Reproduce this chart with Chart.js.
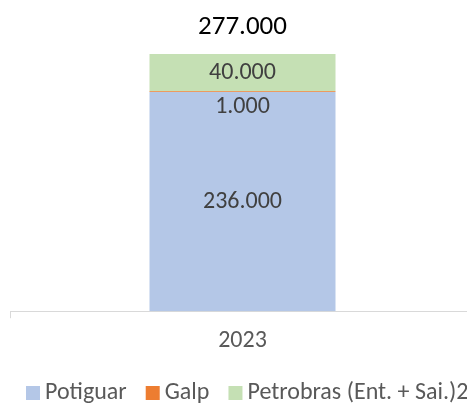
<!DOCTYPE html>
<html>
<head>
<meta charset="utf-8">
<script src="https://cdn.jsdelivr.net/npm/chart.js@4"></script>
<style>
  html, body { margin: 0; padding: 0; background: #fff; overflow: hidden; }
  #wrap { width: 496px; height: 403px; }
</style>
</head>
<body>
<div id="wrap"><canvas id="chart"></canvas></div>
<script>
const categories = ["2023"];
const seriesNames = ["Potiguar", "Galp", "Petrobras (Ent. + Sai.)2"];
const potiguar = [236000];
const galp = [1000];
const petrobras = [40000];
const totals = [277000];

const fontFamily = "Calibri, Carlito, Lato, sans-serif";
const fmt = (v) => v.toLocaleString("pt-BR");

// rótulos de valor e total desenhados a partir dos elementos do gráfico
const labelsPlugin = {
  id: "valueLabels",
  afterDatasetsDraw(chart) {
    const ctx = chart.ctx;
    ctx.save();
    ctx.textAlign = "center";
    ctx.textBaseline = "middle";
    ctx.font = "24px " + fontFamily;
    ctx.fillStyle = "#404040";
    chart.data.datasets.forEach((ds, i) => {
      const meta = chart.getDatasetMeta(i);
      meta.data.forEach((bar, j) => {
        const v = ds.data[j];
        let y = (bar.y + bar.base) / 2;
        if (i === 1) y = bar.y + 16;
        ctx.fillText(fmt(v), bar.x, y);
      });
    });
    const topMeta = chart.getDatasetMeta(2);
    ctx.font = "27px " + fontFamily;
    ctx.fillStyle = "#000";
    topMeta.data.forEach((bar, j) => {
      ctx.fillText(fmt(totals[j]), bar.x, bar.y - 27);
    });
    ctx.restore();
  },
};

// legenda desenhada à mão, alinhada à esquerda como no original
const legendPlugin = {
  id: "customLegend",
  afterDraw(chart) {
    const ctx = chart.ctx;
    ctx.save();
    ctx.font = "24px " + fontFamily;
    ctx.textBaseline = "middle";
    ctx.textAlign = "left";
    let x = 26;
    const y = 393;
    chart.data.datasets.forEach((ds) => {
      ctx.fillStyle = ds.backgroundColor;
      ctx.fillRect(x, y - 7, 14, 14);
      x += 14 + 5;
      ctx.fillStyle = "#595959";
      ctx.fillText(ds.label, x, y);
      x += ctx.measureText(ds.label).width + 19;
    });
    ctx.restore();
  },
};

new Chart(document.getElementById("chart"), {
  type: "bar",
  data: {
    labels: categories,
    datasets: [
      { label: seriesNames[0], data: potiguar, backgroundColor: "#b4c7e7" },
      { label: seriesNames[1], data: galp, backgroundColor: "#ed7d31" },
      { label: seriesNames[2], data: petrobras, backgroundColor: "#c5e0b4" },
    ],
  },
  options: {
    responsive: true,
    maintainAspectRatio: false,
    animation: false,
    datasets: {
      bar: { barPercentage: 0.4, categoryPercentage: 1 },
    },
    layout: { padding: { top: 54, left: 10, right: 21, bottom: 40 } },
    scales: {
      x: {
        stacked: true,
        offset: true,
        border: { display: true, color: "#d9d9d9", width: 1 },
        grid: { display: true, drawOnChartArea: false, drawTicks: true, tickLength: 7, color: "#d9d9d9" },
        ticks: { color: "#595959", font: { family: fontFamily, size: 24 }, padding: 8 },
      },
      y: {
        stacked: true,
        display: false,
        min: 0,
        max: 277000,
      },
    },
    plugins: {
      legend: { display: false },
      tooltip: { enabled: false },
    },
  },
  plugins: [labelsPlugin, legendPlugin],
});
</script>
</body>
</html>
